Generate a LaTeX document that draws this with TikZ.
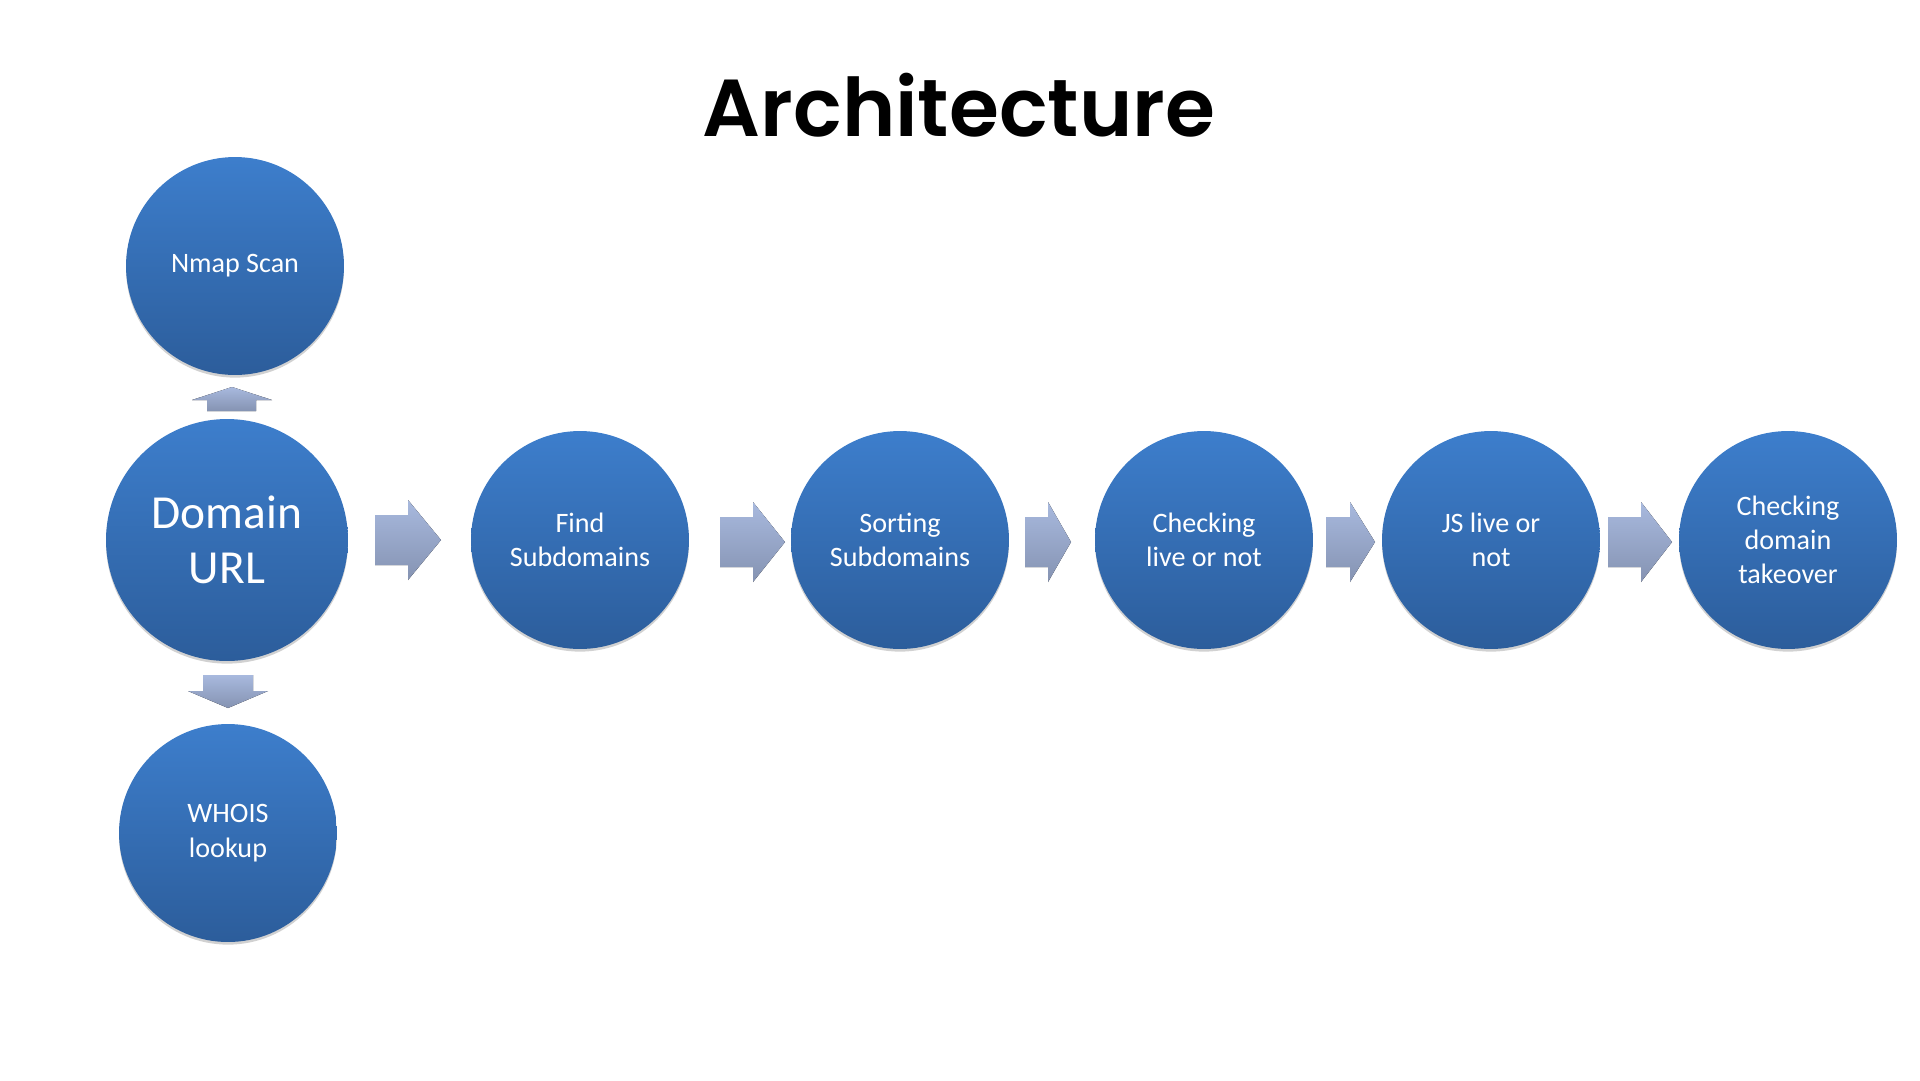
\documentclass[tikz,border=0pt]{standalone}
\usepackage{fontspec}
\setmainfont{Carlito}
\newfontfamily\titlefont{Poppins SemiBold}
\usepackage{xcolor}
\usepackage{tikz}
\usetikzlibrary{positioning,shadows}

\definecolor{circtop}{HTML}{3D7ECC}
\definecolor{circbot}{HTML}{2C5D9B}
\definecolor{arrtop}{HTML}{A8B9DE}
\definecolor{arrbot}{HTML}{8593B2}

% block arrow pointing right: tail x, head x, tip x, centre y
\newcommand{\rightblock}[4]{%
  \fill[barrow] (#1,#4-25) -- (#2,#4-25) -- (#2,#4-40) -- (#3,#4) -- (#2,#4+40) -- (#2,#4+25) -- (#1,#4+25) -- cycle;}

\begin{document}
\begin{tikzpicture}[x=0.02cm, y=-0.02cm,
    stepcircle/.style={circle, minimum size=4.36cm, inner sep=0pt, top color=circtop, bottom color=circbot,
        text=white, align=center, font=\fontsize{16}{19.5}\selectfont,
        drop shadow={shadow xshift=0pt, shadow yshift=-1.5pt, opacity=0.3, fill=black!60}},
    bigcircle/.style={stepcircle, minimum size=4.84cm, font=\fontsize{27}{31}\selectfont},
    barrow/.style={top color=arrtop, bottom color=arrbot, draw=none}
]
    \useasboundingbox (0,0) rectangle (1920,1080);

    \node[font=\titlefont\fontsize{46}{50}\selectfont, anchor=base] (title) at (959,136) {Architecture};

    \node[bigcircle] (domain) at (227,540) {Domain\\URL};
    \node[stepcircle] (nmap) at (235,266) {Nmap Scan};
    \node[stepcircle] (whois) at (228,833) {WHOIS\\lookup};
    \node[stepcircle] (find) at (580,540) {Find\\Subdomains};
    \node[stepcircle] (sort) at (900,540) {Sorting\\Subdomains};
    \node[stepcircle] (live) at (1204,540) {Checking\\live or not};
    \node[stepcircle] (js) at (1491,540) {JS live or\\not};
    \node[stepcircle] (takeover) at (1788,540) {Checking\\domain\\takeover};

    % up and down arrows
    \fill[barrow] (207,411) -- (207,400) -- (192,400) -- (232,387) -- (272,400) -- (256,400) -- (256,411) -- cycle;
    \fill[barrow] (203,675) -- (253,675) -- (253,691) -- (268,691) -- (228,708) -- (188,691) -- (203,691) -- cycle;

    % arrows along the row
    \rightblock{375}{408}{441}{540}
    \rightblock{720}{753}{785}{542}
    \rightblock{1025}{1048}{1071}{542}
    \rightblock{1326}{1350}{1375}{542}
    \rightblock{1608}{1641}{1672}{542}
\end{tikzpicture}
\end{document}
